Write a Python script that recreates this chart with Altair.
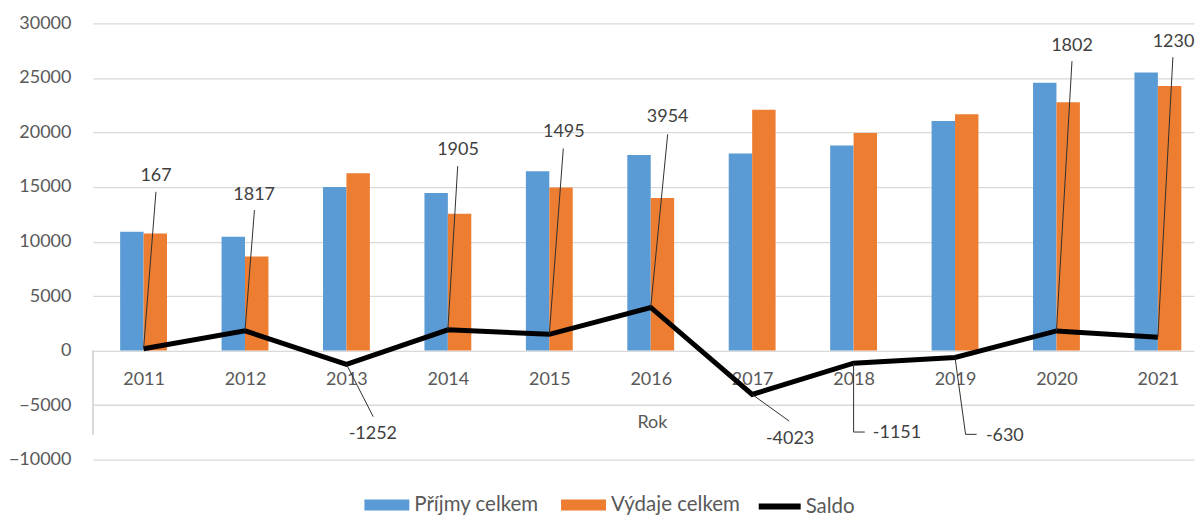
import altair as alt
import pandas as pd

# ---- data ----
years = [2011, 2012, 2013, 2014, 2015, 2016, 2017, 2018, 2019, 2020, 2021]
prijmy = [10900, 10450, 15000, 14450, 16450, 17940, 18070, 18800, 21050, 24570, 25500]
vydaje = [10733, 8633, 16252, 12545, 14955, 13986, 22093, 19951, 21680, 22768, 24270]
saldo = [167, 1817, -1252, 1905, 1495, 3954, -4023, -1151, -630, 1802, 1230]
series_names = ["Příjmy celkem", "Výdaje celkem"]
line_name = "Saldo"
axis_title = "Rok"

# ---- annotation placement of the Saldo data labels (data units) ----
label_x = [2011.123, 2012.09, 2013.26, 2014.10, 2015.143, 2016.167, 2017.374, 2018.428, 2019.491, 2020.153, 2021.154]
label_y = [15995, 14258, -7678, 18371, 20044, 21415, -8135, -7522, -7833, 27968, 28270]
leader_end_x = [2011.122, 2012.093, 2013.264, 2014.097, 2015.138, 2016.167, 2017.365, 2018.110, 2019.213, 2020.153, 2021.148]
leader_end_y = [14560, 12887, -6060, 16909, 18527, 19834, -6462, -7467, -7678, 26533, 26900]
leader_corner = {7: (2018.0, -7467), 8: (2019.104, -7678)}

# ---- styles ----
BLUE, ORANGE = "#5B9BD5", "#ED7D31"
FONT = "Lato"
BAR_W = 0.231  # bar width in year units
X_DOMAIN = [2010.5, 2021.356]

# ---- tables ----
bars = []
for i, yr in enumerate(years):
    bars.append({"year": yr, "series": series_names[0], "value": prijmy[i], "x0": yr - BAR_W, "x1": yr})
    bars.append({"year": yr, "series": series_names[1], "value": vydaje[i], "x0": yr, "x1": yr + BAR_W})
bars_df = pd.DataFrame(bars)

line_df = pd.DataFrame({"year": years, "value": saldo, "s": line_name})

labels_df = pd.DataFrame({"lx": label_x, "ly": label_y, "text": [str(v) for v in saldo]})

lead = []
for i, yr in enumerate(years):
    pts = [(yr, saldo[i])]
    if i in leader_corner:
        pts.append(leader_corner[i])
    pts.append((leader_end_x[i], leader_end_y[i]))
    for k, (px, py) in enumerate(pts):
        lead.append({"id": i, "o": k, "lx": px, "ly": py})
lead_df = pd.DataFrame(lead)

xscale = alt.Scale(domain=X_DOMAIN, nice=False, zero=False)
yscale = alt.Scale(domain=[-10000, 30000], nice=False, zero=False)

x_axis = alt.Axis(values=years, format="d", title=axis_title, grid=False, ticks=False,
                  domain=False, offset=-109.4, labelPadding=20, labelFontSize=18,
                  labelColor="#595959", labelFont=FONT, titleFont=FONT, titleFontSize=18,
                  titleFontWeight="normal", titleColor="#595959", titlePadding=25, titleX=560)
y_axis = alt.Axis(values=list(range(-10000, 30001, 5000)), format="d", title=None,
                  ticks=False, domain=False, labelFontSize=18, labelColor="#595959",
                  labelFont=FONT, labelPadding=22, minExtent=84, maxExtent=84,
                  gridColor="#d9d9d9", gridWidth=1.3)


def X(field):
    return alt.X(field, scale=xscale, axis=x_axis, title=axis_title)


def Y(field):
    return alt.Y(field, scale=yscale, axis=y_axis, title=None)


bar_layer = alt.Chart(bars_df).mark_bar().encode(
    x=X("x0:Q"),
    x2="x1:Q",
    y=Y("value:Q"),
    y2=alt.datum(0),
    color=alt.Color("series:N",
                    scale=alt.Scale(domain=series_names, range=[BLUE, ORANGE]),
                    legend=alt.Legend(title=None, orient="none", legendX=272, legendY=460,
                                      padding=0, direction="horizontal", labelFontSize=20.5,
                                      labelFont=FONT, labelColor="#595959",
                                      symbolType="M-1,-0.244H1V0.244H-1Z",
                                      symbolSize=2025, symbolStrokeWidth=0, labelOffset=5,
                                      columnPadding=22, labelLimit=300)),
)

level_line = alt.Chart(line_df).mark_rule(color="#d9d9d9", strokeWidth=1.3).encode(
    x=alt.datum(X_DOMAIN[0], scale=xscale), y=alt.datum(0), y2=alt.datum(-7700)
)

line_layer = alt.Chart(line_df).mark_line(strokeWidth=5).encode(
    x=X("year:Q"),
    y=Y("value:Q"),
    stroke=alt.Stroke("s:N", scale=alt.Scale(domain=[line_name], range=["#000000"]),
                      legend=alt.Legend(title=None, orient="none", legendX=664, legendY=460,
                                        padding=0, labelFontSize=20.5, labelFont=FONT,
                                        labelColor="#595959", symbolType="stroke",
                                        symbolSize=1764, symbolStrokeWidth=6, labelOffset=2)),
)

leader_layer = alt.Chart(lead_df).mark_line(color="#303030", strokeWidth=1).encode(
    x=X("lx:Q"),
    y=Y("ly:Q"),
    detail="id:N",
    order="o:Q",
)

text_layer = alt.Chart(labels_df).mark_text(
    font=FONT, fontSize=18, color="#404040", baseline="middle", align="center"
).encode(
    x=X("lx:Q"),
    y=Y("ly:Q"),
    text="text:N",
)

chart = alt.layer(bar_layer, level_line, line_layer, leader_layer, text_layer).properties(
    width=1103, height=437,
    padding={"left": 0, "top": 6, "right": 0, "bottom": 0},
).configure(background="white", view={"stroke": None})

chart.save("out.html", embed_options={"renderer": "svg", "actions": False})
